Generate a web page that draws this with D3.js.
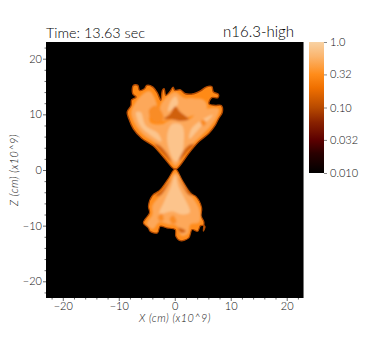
<!DOCTYPE html>
<html><head><meta charset="utf-8">
<script src="https://cdn.jsdelivr.net/npm/d3@7"></script>
<style>html,body{margin:0;padding:0;background:#fff}svg{display:block}text{font-family:Lato,sans-serif;font-weight:300}</style>
</head><body><svg id="c" width="382" height="340"></svg>
<script>
const titleLeft = "Time: 13.63 sec";
const titleRight = "n16.3-high";
const xLabel = "X (cm) (x10^9)";
const zLabel = "Z (cm) (x10^9)";
const majorTicks = [-20,-10,0,10,20];
const minorTicks = [-22,-18,-16,-14,-12,-8,-6,-4,-2,2,4,6,8,12,14,16,18,22];
const barTicks = [1,0.32,0.10,0.032,0.010];
const barLabels = ["1.0","0.32","0.10","0.032","0.010"];
const stopValues = [0.01,0.02,0.032,0.06,0.10,0.2,0.32,0.6,1];
const stopColors = ["#000000","#2a0000","#5c0000","#8a2200","#b84a00","#f07000","#ff8c1a","#fbb56e","#f8d2a4"];

const upperOutline = [[0.1,0.1],[-2,2.3],[-3.8,4.3],[-5.9,5.7],[-7.4,7.4],[-8.2,9.2],[-8.5,10.4],[-7.8,11.6],[-7.7,12.6],[-6.9,13.1],[-7.5,13.7],[-7.4,15.2],[-6.6,15.2],[-6.3,14.3],[-5.4,14.6],[-5,15.2],[-3.9,14.9],[-3.1,13.8],[-2.5,12.5],[-2.2,14.3],[-1.9,14.6],[-1.6,13.4],[-0.9,14],[-0.3,14.9],[0,14.3],[1,14.4],[1.9,13.7],[3.4,13.7],[4.6,14.2],[5.6,14.9],[6.6,15],[6.9,14],[7.8,13.6],[7.7,13],[6.6,13],[6.1,11.9],[7.2,11.6],[8.3,11.6],[8.5,10.4],[7.8,9.2],[7.2,8],[6.1,6.6],[4.3,5.1],[2.5,3],[1,0.9]];
const lowerOutline = [[0.1,0.2],[-1.1,-1.5],[-2.6,-3.6],[-4,-4.6],[-4.7,-6.5],[-4.5,-7.7],[-5.6,-9.5],[-4.7,-10.4],[-4.4,-11],[-3.1,-11.3],[-2.6,-10.1],[-1.4,-10.4],[0.1,-10.7],[0.2,-11.9],[1,-12.7],[2.5,-12.2],[3.1,-10.7],[4.1,-11],[4.6,-10],[5.4,-10.1],[5.1,-11],[5.2,-9.3],[4.7,-8.3],[4.8,-6.8],[3.8,-4.8],[2.8,-4.2],[1.3,-1.8]];
const lightBody = [[0.1,0.7],[-1.6,3],[-3.6,4.9],[-5.7,6.4],[-7.1,8.2],[-7.8,10.3],[-7.1,12],[-6,13.4],[-4.6,14.2],[-3.6,13],[-3.2,11],[-4.4,10],[-4.4,8.6],[-2.4,8.2],[-0.8,9],[1,9],[2.8,9.2],[4,10.4],[5.7,11],[7.9,11],[7.6,9.6],[6.2,7.6],[4.4,5.8],[2.5,3.9],[1,1.6]];
const lightTop = [[-2.3,8.9],[-2.6,11.5],[-1.7,12.9],[-1.1,13.4],[0.1,14],[1.6,13],[3.4,12.9],[5.2,12.6],[5.8,11.2],[4.2,10.2],[1.9,9.4],[0.7,9.4],[-0.8,9.2]];
const lightLower = [[0.1,-0.5],[-1.2,-2.5],[-2.6,-4.6],[-4,-6.4],[-4,-8],[-5,-9.6],[-3.9,-10.6],[-2.7,-9.4],[-1,-9.8],[0.3,-10],[1.2,-11.8],[2.4,-11.4],[2.8,-9.8],[4.4,-9.4],[4.4,-7],[3.4,-5.2],[1.6,-2.6]];
const paleColumn = [[0.1,1.5],[-1.1,3.9],[-1.3,6.5],[-0.4,8.3],[1.3,8],[1.6,4.8],[1,2.1]];
const paleLeft = [[-6.9,10.4],[-6.2,8],[-4.4,6.3],[-2.4,5.1],[-3,6.6],[-5.2,8],[-6.1,10.4]];
const paleRight = [[2.6,5.6],[4.6,7.7],[6.8,9.9],[5.2,9.2],[3,7.4]];
const paleTop = [[-1.2,10.5],[-0.6,12.6],[0.2,13.2],[0.6,12],[0.2,11.4],[-0.5,10.9]];
const paleLower = [[0.1,-0.9],[-0.8,-3.3],[-1.9,-5.7],[-2.7,-7.9],[-0.5,-7.4],[1.3,-8],[2.7,-7.6],[1.9,-5.4],[0.7,-3]];
const core = [[-1.9,9.2],[-0.8,10.1],[0.1,11.4],[1,10.4],[2.5,9.1],[1,8.8],[-0.5,9.1]];
const orangePatch = [[-4.6,10.8],[-3.4,11.6],[-2.4,10.6],[-2,9.2],[-3,8.5],[-4.2,9.2]];
const orangeSpot = [[4.6,8.8],[5.3,9],[5.6,8.3],[5,7.9]];
const lowerSpotA = [[-0.9,-8.7],[-0.2,-8.2],[0.3,-9.4],[-0.4,-9.7]];
const lowerSpotB = [[-3,-8.4],[-2.3,-7.8],[-2,-9],[-2.7,-9.2]];
const darkEdges = [[[-0.6,1.5],[-2.4,3.2],[-3.6,4.7],[-2.8,4.5],[-1.4,3]],[[0.7,1.6],[2.4,3.4],[3.5,4.6],[2.6,4.5],[1.3,3]],[[-0.7,-1.6],[-2.2,-3.4],[-3.4,-4.6],[-2.6,-4.6],[-1.4,-3]],[[0.7,-1.4],[2,-3.3],[3.2,-4.6],[2.4,-4.4],[1.4,-2.8]],[[0.6,-10.4],[1.3,-10.5],[2,-11],[1.2,-11.3]]];

const L=46,R=303.5,T=42,B=298;
const x=d3.scaleLinear().domain([-23,23]).range([L,R]);
const z=d3.scaleLinear().domain([-23,23]).range([B,T]);
const svg=d3.select("#c");
const defs=svg.append("defs");
defs.append("filter").attr("id","soft").append("feGaussianBlur").attr("stdDeviation",0.9);
defs.append("filter").attr("id","edge").append("feGaussianBlur").attr("stdDeviation",0.6);
defs.append("clipPath").attr("id","clip").append("rect").attr("x",L).attr("y",T).attr("width",R-L).attr("height",B-T);

const barY=d3.scaleLog().domain([0.01,1]).range([173,42]);
const grad=defs.append("linearGradient").attr("id","cb").attr("x1",0).attr("x2",0).attr("y1",1).attr("y2",0);
stopValues.forEach((v,i)=>grad.append("stop").attr("offset",(173-barY(v))/131).attr("stop-color",stopColors[i]));

svg.append("rect").attr("x",L).attr("y",T).attr("width",R-L).attr("height",B-T).attr("fill","#000");
const line=d3.line().x(d=>x(d[0])).y(d=>z(d[1])).curve(d3.curveCatmullRomClosed.alpha(0.5));
const marks=svg.append("g").attr("clip-path","url(#clip)");
function blob(g,pts,fill,stroke,sw){g.append("path").attr("d",line(pts)).attr("fill",fill).attr("stroke",stroke||"none").attr("stroke-width",sw||0).attr("stroke-linejoin","round");}
const g0=marks.append("g").attr("filter","url(#edge)");
blob(g0,upperOutline,"#ff8a18","#b04a06",1.4);
blob(g0,lowerOutline,"#ff8c1a","#b04a06",1.2);
const g1=marks.append("g").attr("filter","url(#soft)");
[lightBody,lightTop,lightLower].forEach(p=>blob(g1,p,"#fda85a"));
[paleColumn,paleLeft,paleRight,paleTop,paleLower].forEach(p=>blob(g1,p,"#fcc48c"));
[orangePatch,orangeSpot,lowerSpotA,lowerSpotB].forEach(p=>blob(g1,p,"#f98c26"));
darkEdges.forEach(p=>blob(g1,p,"#d4640c"));
blob(g1,core,"#d0600c");

const tx=svg.append("g");
function axis(gen,tr){
  const g=tx.append("g").attr("transform",tr).call(gen);
  g.select(".domain").remove();
  g.selectAll("line").attr("stroke","#666");
  g.selectAll("text").attr("fill","#111").style("font-size","11px");
  return g;
}
axis(d3.axisBottom(x).tickValues(majorTicks).tickSize(3).tickPadding(1).tickFormat(d3.format("d")),`translate(0,${B})`);
axis(d3.axisBottom(x).tickValues(minorTicks).tickSize(1.5).tickFormat(""),`translate(0,${B})`);
axis(d3.axisLeft(z).tickValues(majorTicks).tickSize(3).tickPadding(1).tickFormat(d3.format("d")),`translate(${L},0)`);
axis(d3.axisLeft(z).tickValues(minorTicks).tickSize(1.5).tickFormat(""),`translate(${L},0)`);
tx.append("line").attr("x1",R).attr("x2",R).attr("y1",T).attr("y2",B).attr("stroke","#777").attr("stroke-width",1);

tx.append("text").attr("x",46).attr("y",38).attr("fill","#000").style("font-size","14.4px").text(titleLeft);
tx.append("text").attr("x",294).attr("y",37).attr("text-anchor","end").attr("fill","#000").style("font-size","15px").text(titleRight);
tx.append("text").attr("x",175).attr("y",322).attr("text-anchor","middle").attr("fill","#111").style("font-size","10.8px").style("font-style","italic").style("letter-spacing","0.5px").text(xLabel);
tx.append("text").attr("transform","translate(18,170) rotate(-90)").attr("text-anchor","middle").attr("fill","#111").style("font-size","10.8px").style("font-style","italic").style("letter-spacing","0.5px").text(zLabel);

svg.append("rect").attr("x",309).attr("y",42).attr("width",15).attr("height",131).attr("fill","url(#cb)");
const barAxis=tx.append("g").attr("transform","translate(324,0)").call(d3.axisRight(barY).tickValues(barTicks).tickSize(3).tickPadding(3).tickFormat((d,i)=>barLabels[i]));
barAxis.select(".domain").remove();
barAxis.selectAll("line").attr("stroke","#888");
barAxis.selectAll("text").attr("fill","#111").style("font-size","11px");
</script></body></html>
